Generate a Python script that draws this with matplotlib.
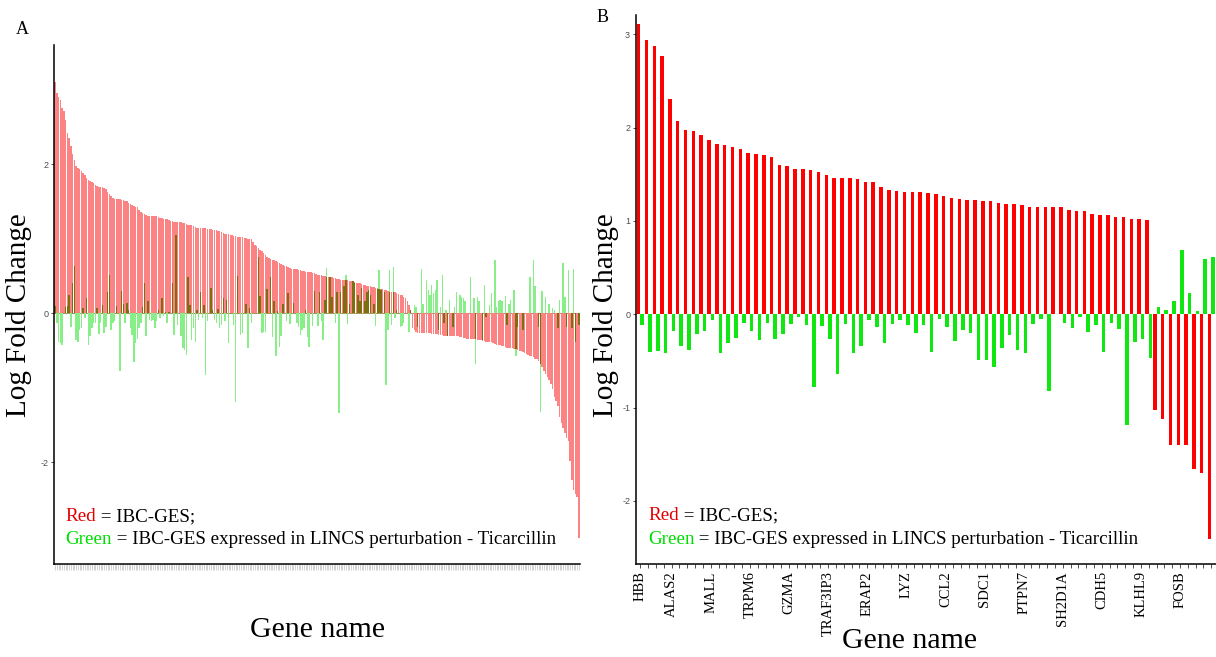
import numpy as np
import matplotlib.pyplot as plt

plt.rcParams['axes.unicode_minus'] = False

# Panel A: log fold change of the full signature (sorted), 300 genes
a_red = [
    3.11, 2.95, 2.90, 2.86, 2.75, 2.72, 2.60, 2.42, 2.35, 2.25,
    2.14, 2.06, 1.98, 1.95, 1.93, 1.91, 1.88, 1.86, 1.81, 1.79,
    1.78, 1.76, 1.75, 1.72, 1.71, 1.70, 1.70, 1.69, 1.68, 1.67,
    1.63, 1.60, 1.57, 1.55, 1.54, 1.53, 1.53, 1.53, 1.52, 1.52,
    1.51, 1.50, 1.48, 1.47, 1.45, 1.44, 1.43, 1.42, 1.39, 1.36,
    1.34, 1.33, 1.32, 1.31, 1.31, 1.31, 1.30, 1.30, 1.30, 1.29,
    1.28, 1.28, 1.27, 1.26, 1.26, 1.25, 1.24, 1.24, 1.23, 1.23,
    1.23, 1.22, 1.22, 1.21, 1.21, 1.20, 1.19, 1.19, 1.18, 1.17,
    1.16, 1.15, 1.15, 1.14, 1.14, 1.14, 1.14, 1.13, 1.13, 1.13,
    1.12, 1.12, 1.12, 1.11, 1.10, 1.09, 1.08, 1.07, 1.06, 1.06,
    1.05, 1.05, 1.04, 1.04, 1.03, 1.03, 1.02, 1.02, 1.01, 1.01,
    1.00, 1.00, 0.99, 0.96, 0.92, 0.90, 0.88, 0.85, 0.83, 0.81,
    0.78, 0.76, 0.74, 0.73, 0.72, 0.71, 0.70, 0.69, 0.68, 0.66,
    0.65, 0.64, 0.63, 0.62, 0.61, 0.60, 0.60, 0.59, 0.59, 0.58,
    0.58, 0.57, 0.57, 0.56, 0.56, 0.55, 0.55, 0.54, 0.54, 0.53,
    0.52, 0.52, 0.51, 0.50, 0.50, 0.49, 0.49, 0.48, 0.48, 0.47,
    0.47, 0.46, 0.46, 0.45, 0.45, 0.44, 0.44, 0.44, 0.43, 0.43,
    0.43, 0.42, 0.41, 0.40, 0.40, 0.39, 0.38, 0.38, 0.37, 0.36,
    0.36, 0.35, 0.35, 0.34, 0.34, 0.33, 0.33, 0.32, 0.31, 0.31,
    0.30, 0.29, 0.29, 0.28, 0.28, 0.27, 0.26, 0.25, 0.24, 0.22,
    0.20, 0.16, 0.11, 0.05, -0.20, -0.22, -0.25, -0.26, -0.26, -0.26,
    -0.27, -0.27, -0.27, -0.27, -0.27, -0.28, -0.28, -0.28, -0.28, -0.29,
    -0.29, -0.29, -0.30, -0.30, -0.30, -0.30, -0.31, -0.31, -0.31, -0.31,
    -0.31, -0.32, -0.32, -0.33, -0.33, -0.34, -0.34, -0.34, -0.35, -0.35,
    -0.35, -0.36, -0.36, -0.36, -0.37, -0.37, -0.38, -0.38, -0.39, -0.39,
    -0.40, -0.41, -0.42, -0.42, -0.43, -0.44, -0.44, -0.45, -0.46, -0.46,
    -0.47, -0.47, -0.48, -0.48, -0.49, -0.50, -0.51, -0.52, -0.54, -0.55,
    -0.56, -0.57, -0.58, -0.59, -0.61, -0.62, -0.64, -0.68, -0.72, -0.77,
    -0.81, -0.85, -0.89, -0.95, -1.01, -1.12, -1.18, -1.25, -1.39, -1.47,
    -1.54, -1.61, -1.68, -1.72, -1.98, -2.24, -2.37, -2.42, -2.46, -3.02,
]

# genes also found in the LINCS perturbation (position in a_red, value)
a_green_idx = [
    0, 1, 2, 3, 4, 6, 7, 8, 9, 10, 11, 12, 13, 14, 15, 16, 17, 18, 19, 20,
    21, 22, 23, 24, 25, 26, 27, 28, 29, 30, 31, 32, 33, 34, 35, 37, 38, 39, 40, 41,
    42, 43, 44, 45, 46, 47, 48, 49, 50, 51, 52, 53, 54, 55, 56, 57, 58, 59, 60, 61,
    62, 63, 64, 65, 67, 68, 69, 70, 72, 73, 74, 75, 76, 77, 78, 79, 80, 81, 82, 83,
    84, 85, 86, 87, 89, 90, 91, 92, 93, 94, 95, 96, 97, 98, 99, 102, 103, 104, 106, 107,
    109, 110, 111, 112, 116, 117, 118, 119, 120, 121, 123, 124, 125, 126, 127, 128, 129, 130, 132, 133,
    134, 136, 138, 139, 140, 141, 142, 143, 144, 145, 147, 148, 150, 151, 152, 153, 154, 155, 157, 158,
    160, 161, 162, 163, 165, 166, 167, 168, 170, 171, 173, 174, 175, 177, 178, 179, 180, 182, 183, 184,
    185, 186, 188, 189, 190, 191, 192, 193, 194, 195, 197, 198, 199, 202, 203, 205, 206, 207, 209, 210,
    212, 213, 214, 215, 216, 217, 218, 219, 220, 221, 222, 223, 224, 225, 227, 228, 229, 231, 232, 233,
    234, 237, 239, 240, 241, 242, 244, 245, 246, 248, 249, 251, 252, 253, 254, 255, 257, 258, 259, 260,
    262, 263, 264, 267, 271, 273, 274, 276, 277, 278, 280, 282, 284, 285, 287, 288, 290, 291, 292, 293,
    295, 296, 297, 299,
]
a_green_val = [
    0.10, -0.13, -0.38, -0.40, -0.42, 0.08, 0.10, 0.25, -0.18, 0.40, 0.64, -0.36, -0.38, -0.22, -0.20, 0.07, -0.06, 0.21, -0.42, -0.31,
    -0.20, -0.13, -0.13, 0.07, -0.28, -0.13, 0.11, -0.27, -0.18, 0.28, 0.51, -0.22, -0.13, -0.11, 0.10, -0.78, 0.30, 0.12, -0.13, 0.14,
    0.04, -0.20, -0.29, -0.65, -0.40, -0.34, -0.20, -0.13, 0.08, 0.40, -0.31, 0.17, -0.09, -0.11, -0.09, -0.20, -0.11, 0.04, -0.07, 0.21,
    -0.04, 0.02, -0.13, 0.02, 0.41, -0.29, 1.05, -0.16, -0.31, -0.47, -0.49, -0.56, 0.49, 0.11, -0.36, -0.20, -0.38, 0.04, -0.09, 0.29,
    -0.07, 0.11, -0.83, -0.11, 0.34, 0.04, -0.09, -0.13, 0.06, -0.20, -0.16, 0.21, -0.11, 0.18, -0.40, -0.16, -1.19, 0.50, -0.29, -0.27,
    0.13, -0.46, 0.07, -0.13, 0.75, 0.23, -0.27, -0.25, -0.25, 0.32, 0.48, -0.32, 0.16, -0.58, 0.03, -0.45, -0.31, 0.13, -0.11, 0.27,
    -0.14, 0.14, -0.13, -0.18, -0.29, -0.22, -0.20, 0.05, -0.32, -0.45, -0.17, 0.30, -0.17, 0.28, -0.11, -0.36, 0.18, 0.61, 0.48, 0.22,
    -0.13, 0.28, -1.34, 0.28, 0.36, 0.52, -0.14, 0.13, 0.43, 0.41, 0.25, 0.17, 0.34, 0.16, 0.28, 0.31, 0.25, 0.13, -0.17, 0.32,
    0.58, 0.31, 0.29, -0.96, -0.22, 0.58, -0.16, 0.62, -0.07, 0.04, -0.18, -0.17, -0.13, -0.25, 0.04, 0.11, 0.09, -0.19, 0.59, 0.13,
    0.45, 0.31, 0.25, 0.38, 0.27, 0.31, 0.45, -0.23, 0.09, 0.52, -0.13, 0.04, -0.31, 0.18, -0.18, 0.09, 0.28, 0.25, 0.22, 0.20,
    0.16, 0.49, 0.20, -0.68, 0.22, 0.16, -0.36, 0.38, -0.05, 0.11, 0.27, 0.72, 0.09, 0.16, 0.18, 0.16, 0.23, -0.16, 0.13, 0.18,
    0.31, -0.58, -0.18, -0.22, 0.49, 0.72, 0.36, -0.19, -1.32, 0.30, 0.22, 0.13, 0.07, 0.04, -0.20, 0.18, 0.68, 0.22, -0.18, 0.58,
    -0.20, 0.59, -0.38, -0.16,
]

# Panel B: 74 genes
b_red = [
    3.11, 2.94, 2.88, 2.77, 2.31, 2.07, 1.975, 1.96, 1.925, 1.865,
    1.825, 1.815, 1.79, 1.77, 1.73, 1.715, 1.71, 1.69, 1.60, 1.585,
    1.56, 1.555, 1.545, 1.52, 1.49, 1.465, 1.465, 1.46, 1.45, 1.42,
    1.42, 1.36, 1.33, 1.32, 1.315, 1.315, 1.31, 1.305, 1.29, 1.265,
    1.245, 1.235, 1.22, 1.22, 1.215, 1.21, 1.19, 1.18, 1.18, 1.17,
    1.155, 1.15, 1.15, 1.15, 1.145, 1.12, 1.11, 1.105, 1.07, 1.065,
    1.06, 1.045, 1.04, 1.025, 1.025, 1.01, -1.03, -1.125, -1.40, -1.40,
    -1.40, -1.66, -1.70, -2.41,
]
b_green = [
    -0.11, -0.40, -0.39, -0.42, -0.18, -0.34, -0.38, -0.21, -0.18, -0.06,
    -0.42, -0.31, -0.25, -0.09, -0.175, -0.28, -0.09, -0.26, -0.21, -0.10,
    -0.03, -0.12, -0.78, -0.13, -0.26, -0.64, -0.10, -0.41, -0.34, -0.065,
    -0.14, -0.31, -0.10, -0.065, -0.11, -0.20, -0.12, -0.40, -0.05, -0.14,
    -0.29, -0.17, -0.20, -0.49, -0.49, -0.56, -0.36, -0.225, -0.38, -0.41,
    -0.10, -0.05, -0.82, 0.0, -0.09, -0.15, -0.03, -0.19, -0.11, -0.40,
    -0.09, -0.16, -1.19, -0.30, -0.27, -0.47, 0.075, 0.05, 0.14, 0.69,
    0.23, 0.03, 0.59, 0.61,
]
b_label_pos = [1, 5, 10, 15, 20, 25, 30, 35, 40, 45, 50, 55, 60, 65, 70]
b_label_txt = ['HBB', 'ALAS2', 'MALL', 'TRPM6', 'GZMA', 'TRAF3IP3', 'ERAP2', 'LYZ',
               'CCL2', 'SDC1', 'PTPN7', 'SH2D1A', 'CDH5', 'KLHL9', 'FOSB']

SERIF = 'Liberation Serif'
SANS = 'Liberation Sans'
W, H = 1216, 657

def fx(px):
    return px / W

def fy(py):
    return 1 - py / H

def style_axes(ax):
    for s in ['top', 'right']:
        ax.spines[s].set_visible(False)
    for s in ['left', 'bottom']:
        ax.spines[s].set_linewidth(1.1)
        ax.spines[s].set_color('black')
    ax.tick_params(axis='y', length=2.5, width=0.6, color='#333333', pad=1.5,
                   labelsize=6.5, labelcolor='#4d4d4d')
    for lab in ax.get_yticklabels():
        lab.set_family(SANS)

def legend_text(x, y):
    t1 = fig.text(fx(x), fy(y), 'Red', color='#e00000', family=SERIF,
                  fontsize=13.7, va='center', ha='left')
    plt.annotate(' = IBC-GES;', xy=(1, 0), xycoords=t1, va='bottom', ha='left',
                 family=SERIF, fontsize=13.7, color='black')
    t2 = fig.text(fx(x), fy(y + 23), 'Green', color='#00dd00', family=SERIF,
                  fontsize=13.7, va='center', ha='left')
    plt.annotate(' = IBC-GES expressed in LINCS perturbation - Ticarcillin',
                 xy=(1, 0), xycoords=t2, va='bottom', ha='left',
                 family=SERIF, fontsize=13.7, color='black')

fig = plt.figure(figsize=(W / 100, H / 100), dpi=100)

# ---- panel A ----
axA = fig.add_axes([fx(54), fy(564), fx(526), (564 - 45) / H])
red = np.array(a_red)
green = np.zeros(len(red))
green[a_green_idx] = a_green_val
same = np.sign(green) == np.sign(red)
overlap = np.where(same, np.sign(red) * np.minimum(np.abs(red), np.abs(green)), 0)
xa = np.arange(len(red))
axA.bar(xa, red, width=0.82, color='#fb8383', linewidth=0)
axA.bar(xa, green, width=0.82, color='#88ee88', linewidth=0)
axA.bar(xa, overlap, width=0.82, color='#7d6e10', linewidth=0)
axA.axhline(0, color='#7d6e10', lw=0.5, zorder=0.5)
axA.set_xlim(-0.6, len(red) - 0.4)
axA.set_ylim(-3.365, 3.60)
axA.set_yticks([-2, 0, 2])
axA.set_xticks(xa)
axA.set_xticklabels([])
axA.tick_params(axis='x', length=4, width=0.4, color='#b0b0b0')
style_axes(axA)

# ---- panel B ----
axB = fig.add_axes([fx(635.7), fy(564.3), fx(580.3), (564.3 - 15) / H])
xb = np.arange(1, len(b_red) + 1)
axB.bar(xb - 0.225, b_red, width=0.45, color='#ff0000', linewidth=0)
axB.bar(xb + 0.225, b_green, width=0.45, color='#10e610', linewidth=0)
axB.set_xlim(0.4, len(b_red) + 0.6)
axB.set_ylim(-2.68, 3.208)
axB.set_yticks([-2, -1, 0, 1, 2, 3])
labels = [''] * len(xb)
for p, t in zip(b_label_pos, b_label_txt):
    labels[p - 1] = t
axB.set_xticks(xb)
axB.set_xticklabels(labels, rotation=90, family=SERIF, fontsize=10.5)
axB.tick_params(axis='x', length=3, width=0.6, color='#333333', pad=2)
style_axes(axB)

# ---- text ----
legend_text(65.7, 516.5)
legend_text(648, 516)

fig.text(fx(19), fy(315), 'Log Fold Change', rotation=90, family=SERIF,
         fontsize=21, ha='center', va='center')
fig.text(fx(606), fy(315), 'Log Fold Change', rotation=90, family=SERIF,
         fontsize=21, ha='center', va='center')
fig.text(fx(318), fy(630), 'Gene name', family=SERIF, fontsize=21.5,
         ha='center', va='center')
fig.text(fx(910), fy(641), 'Gene name', family=SERIF, fontsize=21.5,
         ha='center', va='center')
fig.text(fx(22), fy(29), 'A', family=SERIF, fontsize=13, ha='center', va='center')
fig.text(fx(603), fy(18), 'B', family=SERIF, fontsize=13, ha='center', va='center')

fig.savefig('out.png', dpi=100, facecolor='white')
